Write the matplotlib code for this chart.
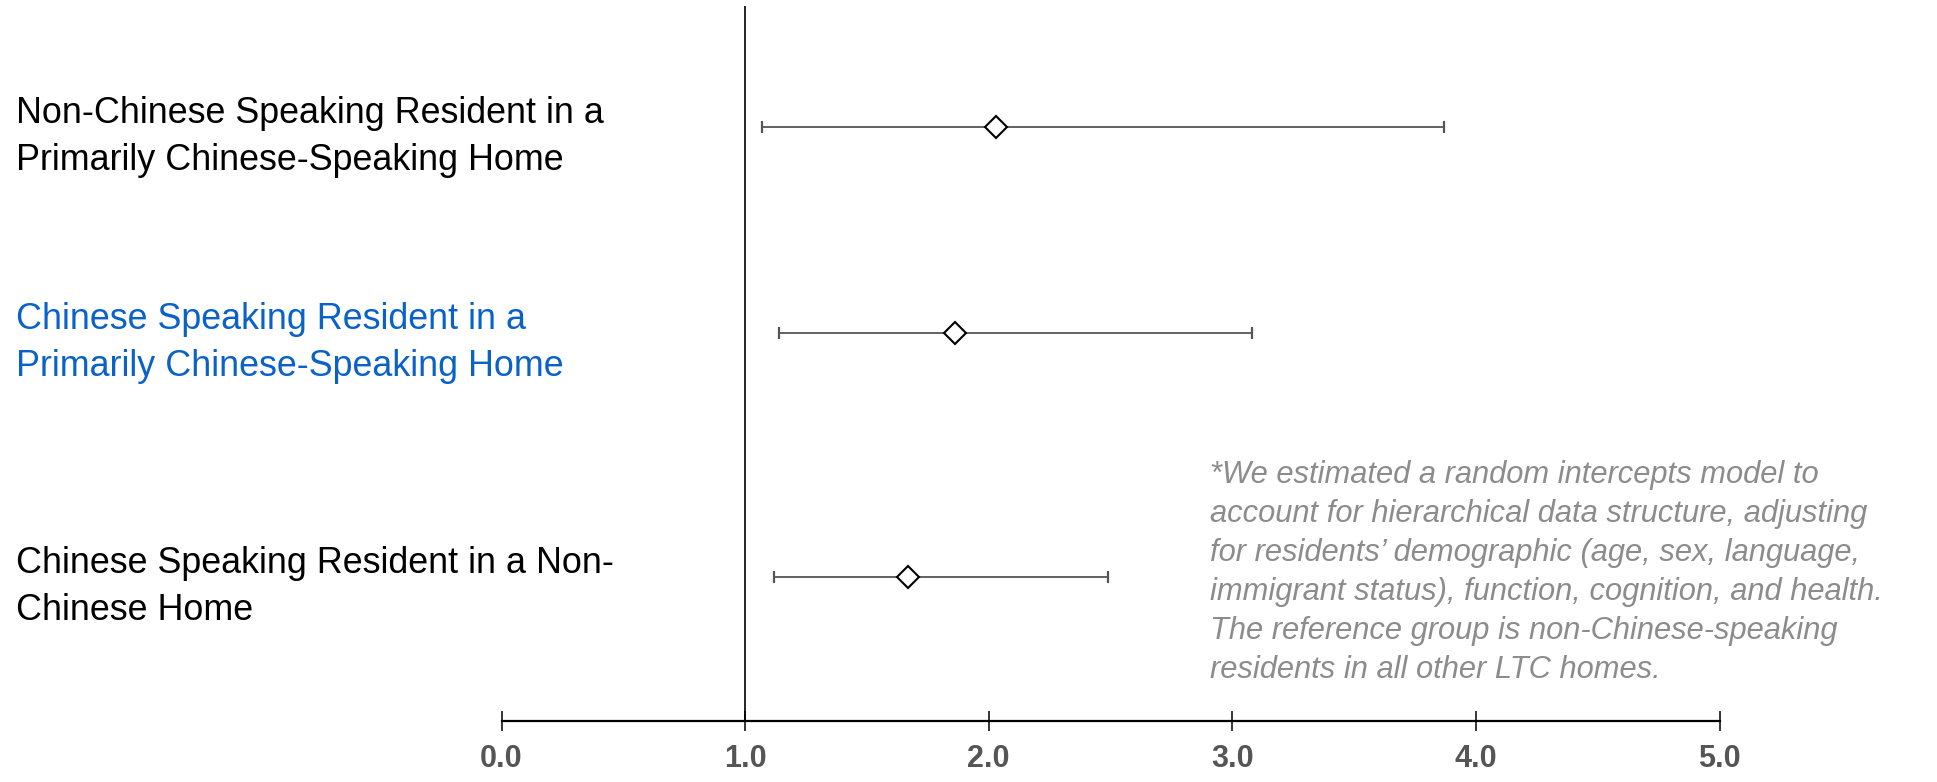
import matplotlib
matplotlib.use('Agg')
import matplotlib.pyplot as plt
import matplotlib.transforms as mtransforms

# Data (odds ratios with confidence intervals)
groups = [
    "Non-Chinese Speaking Resident in a\nPrimarily Chinese-Speaking Home",
    "Chinese Speaking Resident in a\nPrimarily Chinese-Speaking Home",
    "Chinese Speaking Resident in a Non-\nChinese Home",
]
estimates = [2.03, 1.86, 1.67]
lower_ci = [1.07, 1.14, 1.12]
upper_ci = [3.87, 3.08, 2.49]
label_colors = ["black", "#0a62c8", "black"]
row_pos = [2.97, 1.94, 0.72]
xticks = [0.0, 1.0, 2.0, 3.0, 4.0, 5.0]
note = ("*We estimated a random intercepts model to\n"
        "account for hierarchical data structure, adjusting\n"
        "for residents\u2019 demographic (age, sex, language,\n"
        "immigrant status), function, cognition, and health.\n"
        "The reference group is non-Chinese-speaking\n"
        "residents in all other LTC homes.")

plt.rcParams['font.family'] = ['Liberation Sans', 'DejaVu Sans']

fig = plt.figure(figsize=(19.37, 7.82), dpi=100)
ax = fig.add_axes([501.5 / 1937, 61 / 782, 1218 / 1937, 715 / 782])

xerr = [[e - l for e, l in zip(estimates, lower_ci)],
        [u - e for e, u in zip(estimates, upper_ci)]]
ax.errorbar(estimates, row_pos, xerr=xerr, fmt='none', ecolor='#555555',
            elinewidth=1.3, capsize=4.3, capthick=1.6, zorder=2)
ax.plot(estimates, row_pos, linestyle='none', marker='D', markersize=11,
        markerfacecolor='white', markeredgecolor='black', markeredgewidth=1.5,
        zorder=3)

ax.axvline(1.0, color='black', linewidth=1.2, zorder=1)

ax.set_xlim(0, 5)
ax.set_ylim(0, 3.575)
ax.set_xticks(xticks)
ax.set_xticklabels([f"{t:.1f}" for t in xticks], fontsize=22,
                   fontweight='bold', color='#555555')
ax.tick_params(axis='x', direction='inout', length=14.5, width=1.1,
               color='black', pad=9)
ax.set_yticks([])
for s in ['left', 'right', 'top']:
    ax.spines[s].set_visible(False)
ax.spines['bottom'].set_linewidth(1.6)
ax.spines['bottom'].set_color('black')
ax.patch.set_alpha(0)

# Row labels on the left
trans = mtransforms.blended_transform_factory(fig.transFigure, ax.transData)
for name, y, c in zip(groups, row_pos, label_colors):
    ax.text(16 / 1937, y - 0.05, name, transform=trans, ha='left', va='center',
            fontsize=25.8, color=c, linespacing=1.46)

# Footnote
fig.text(1210 / 1937, 1 - 460 / 782, note, ha='left', va='top', fontsize=22.2,
         style='italic', color='#8c8c8c', linespacing=1.39)

fig.savefig('out.png', dpi=100)
plt.close(fig)
